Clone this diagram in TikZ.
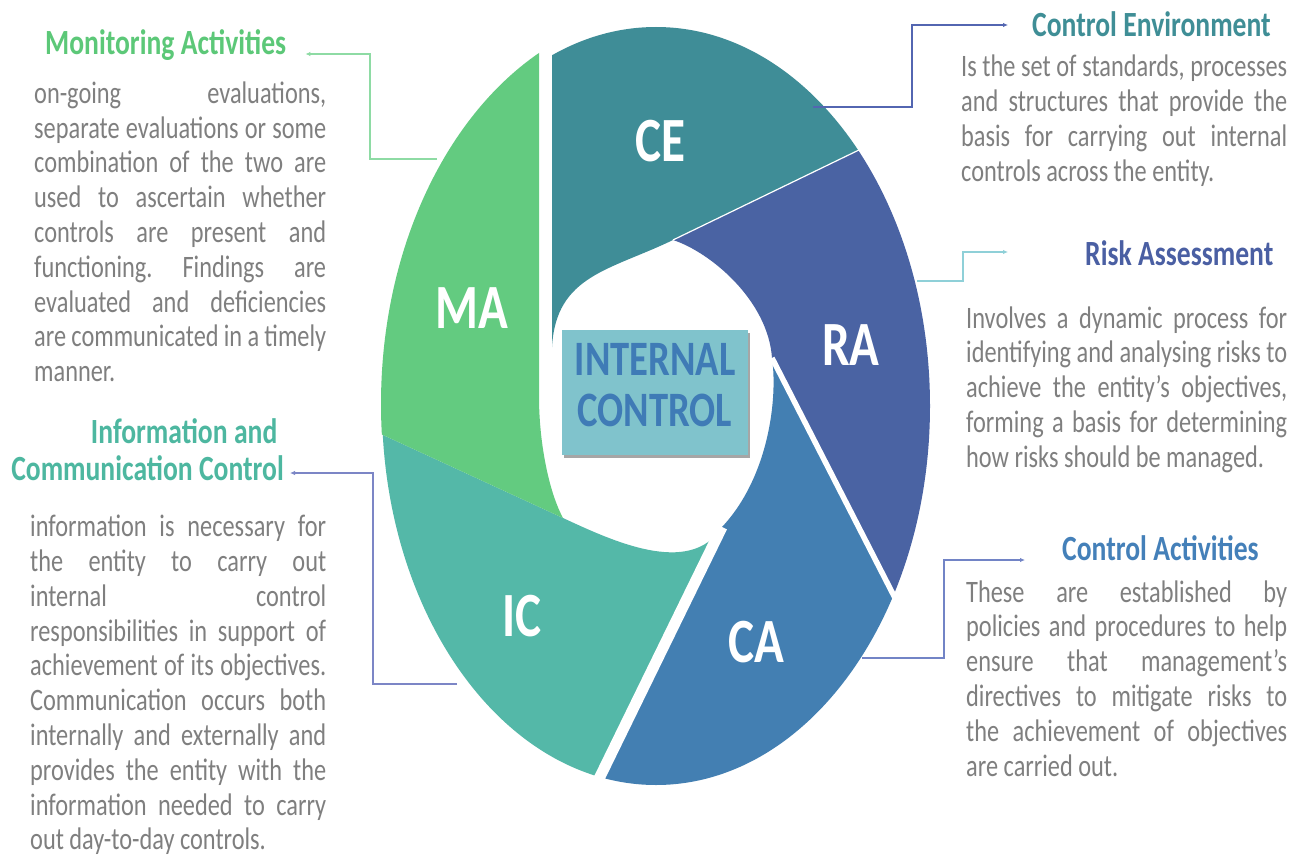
\documentclass[tikz,border=0pt]{standalone}
\usepackage{fontspec}
\setmainfont{Carlito}[FakeStretch=0.78]
\usetikzlibrary{calc,arrows.meta,shadows}

% blade colours
\definecolor{maC}{HTML}{63CB80}
\definecolor{ceC}{HTML}{3F8D97}
\definecolor{raC}{HTML}{4A63A3}
\definecolor{caC}{HTML}{437FB2}
\definecolor{icC}{HTML}{54B8A8}
% heading colours
\definecolor{maH}{HTML}{5CC878}
\definecolor{ceH}{HTML}{3F8E96}
\definecolor{raH}{HTML}{4A5FA3}
\definecolor{caH}{HTML}{4480B9}
\definecolor{icH}{HTML}{4DB7A0}
% connector colours
\definecolor{maL}{HTML}{8EDBA4}
\definecolor{ceL}{HTML}{5366B1}
\definecolor{raL}{HTML}{8FD0D8}
\definecolor{caL}{HTML}{7284C6}
\definecolor{icL}{HTML}{7C86C6}
% centre box and body text
\definecolor{boxC}{HTML}{80C3CC}
\definecolor{boxT}{HTML}{3F7BB6}
\definecolor{bodygray}{HTML}{7F7F7F}

\frenchspacing
% word spaces of the condensed face: set inside the text, after the node's alignment
\newlength\blockw
% one fully justified line of a description
\newcommand\jl[1]{{\spaceskip 5.5pt plus 1fill minus 2pt\relax\makebox[\blockw][s]{#1}}}
% the closing, unjustified line of a description
\newcommand\el[1]{{\spaceskip 5.5pt\relax #1}}
% a heading line
\newcommand\hd[1]{{\spaceskip 6.4pt\relax #1}}

\begin{document}
\begin{tikzpicture}[x=1pt,y=-1pt,
  body/.style={anchor=base west, inner sep=0pt, text=bodygray, align=left,
    text width=#1, execute at begin node={\setlength{\blockw}{#1}},
    font=\fontsize{31.2}{34.8}\selectfont},
  head/.style={anchor=base west, inner sep=0pt,
    font=\fontsize{35.4}{37}\selectfont\bfseries},
  bladelabel/.style={anchor=base, inner sep=0pt, text=white,
    font=\fontsize{63}{63}\selectfont\bfseries},
  cbox/.style={fill=boxC, minimum width=186pt, minimum height=125pt, inner sep=0pt,
    drop shadow={shadow xshift=1.5pt, shadow yshift=-2.5pt, fill=black, opacity=0.35}},
  ctext/.style={anchor=base, inner sep=0pt, text width=186pt, align=center, text=boxT,
    font=\fontsize{49.5}{51}\selectfont\bfseries},
  conn/.style={line width=1.3pt, -{Latex[length=5pt,width=4.5pt]}},
  gap/.style={white, line width=#1}]

\useasboundingbox (0,0) rectangle (1291,856);
\fill[white] (0,0) rectangle (1291,856);

% ---- the five blades of the ring ----
% CE
\begin{scope}
  \clip (552,-50) -- (552,347) .. controls (556,275) and (610,270.5) .. (673,240)
        -- (1100,33.3) -- (1100,-50) -- cycle;
  \fill[ceC] (656,406) ellipse [x radius=274, y radius=379];
\end{scope}
% RA
\begin{scope}
  \clip (673,240) -- (1100,33.3) -- (1100,710) -- (952.4,710) -- (772,358)
        .. controls (768,300) and (710,252) .. (673,240) -- cycle;
  \fill[raC] (656,406) ellipse [x radius=274, y radius=379];
\end{scope}
% CA
\begin{scope}
  \clip (772,358) -- (952.4,710) -- (952.4,920) -- (530,920) -- (722,527)
        .. controls (768,478) and (778,400) .. (772,358) -- cycle;
  \fill[caC] (656,406) ellipse [x radius=274, y radius=379];
\end{scope}
% IC
\begin{scope}
  \clip (722,527) -- (530,920) -- (280,920) -- (280,387.5) -- (563,518)
        .. controls (610.2,539.8) and (690,578) .. (722,527) -- cycle;
  \fill[icC] (656,406) ellipse [x radius=274, y radius=379];
\end{scope}
% MA
\begin{scope}
  \clip (563,518) -- (280,387.5) -- (280,-50) -- (539,-50) -- (539,397)
        .. controls (539,440) and (548,490) .. (563,518) -- cycle;
  \fill[maC] (666,404) ellipse [x radius=285, y radius=392];
\end{scope}

% white seams between blades
\draw[gap=1.2pt] (673,240) -- (1100,33.3);
\draw[gap=5.5pt] (772,358) -- (952.4,710);
\draw[gap=11pt] (722,527) -- (530,920);

% blade labels
\node[bladelabel] (lce) at (660,161.5) {CE};
\node[bladelabel] (lra) at (851,365) {RA};
\node[bladelabel] (lca) at (756,662) {CA};
\node[bladelabel] (lic) at (522,636) {IC};
\node[bladelabel] (lma) at (472,328) {MA};

% centre box
\node[cbox] (cbox) at (655,392.5) {};
\node[ctext] (ctext) at (655,375.7) {INTERNAL\\CONTROL};

% ---- headings ----
\node[head, text=maH] (mah) at (45,55) {\hd{Monitoring Activities}};
\node[head, text=ceH] (ceh) at (1032,37) {\hd{Control Environment}};
\node[head, text=raH] (rah) at (1085,265) {\hd{Risk Assessment}};
\node[head, text=caH] (cah) at (1062,560) {\hd{Control Activities}};
\node[head, text=icH, anchor=base east, text width=300pt, align=right] (ich) at (284,443)
  {\hd{Information and}\kern6.5pt\\\hd{Communication Control}};

% ---- descriptions ----
\node[body=292pt] (mab) at (34,103.3) {%
\jl{on-going evaluations,}\\
\jl{separate evaluations or some}\\
\jl{combination of the two are}\\
\jl{used to ascertain whether}\\
\jl{controls are present and}\\
\jl{functioning. Findings are}\\
\jl{evaluated and deficiencies}\\
\jl{are communicated in a timely}\\
\el{manner.}};

\node[body=296pt] (icb) at (30,536.7) {%
\jl{information is necessary for}\\
\jl{the entity to carry out}\\
\jl{internal control}\\
\jl{responsibilities in support of}\\
\jl{achievement of its objectives.}\\
\jl{Communication occurs both}\\
\jl{internally and externally and}\\
\jl{provides the entity with the}\\
\jl{information needed to carry}\\
\el{out day-to-day controls.}};

\node[body=326pt] (ceb) at (961,77) {%
\jl{Is the set of standards, processes}\\
\jl{and structures that provide the}\\
\jl{basis for carrying out internal}\\
\el{controls across the entity.}};

\node[body=321pt] (rab) at (966,328) {%
\jl{Involves a dynamic process for}\\
\jl{identifying and analysing risks to}\\
\jl{achieve the entity’s objectives,}\\
\jl{forming a basis for determining}\\
\el{how risks should be managed.}};

\node[body=321pt] (cab) at (966,602) {%
\jl{These are established by}\\
\jl{policies and procedures to help}\\
\jl{ensure that management’s}\\
\jl{directives to mitigate risks to}\\
\jl{the achievement of objectives}\\
\el{are carried out.}};

% ---- connectors from the blades to their headings ----
\coordinate (maport) at (437,159);
\coordinate (ceport) at (813,107);
\coordinate (raport) at (917,281);
\coordinate (caport) at (862,658);
\coordinate (icport) at (457,684);

\draw[conn, maL] (maport) -- ++(-67,0) |- ($(mah.base east)+(19,-1)$);
\draw[conn, ceL] (ceport) -- ++(99,0) |- ($(ceh.base west)+(-24,-12)$);
\draw[conn, raL] (raport) -- ++(46,0) |- ($(rah.base west)+(-77,-13)$);
\draw[conn, caL] (caport) -- ++(82,0) |- ($(cah.base west)+(-37,0)$);
\draw[conn, icL] (icport) -- ++(-84,0) |- ($(ich.base east)+(6,30)$);

\end{tikzpicture}
\end{document}
